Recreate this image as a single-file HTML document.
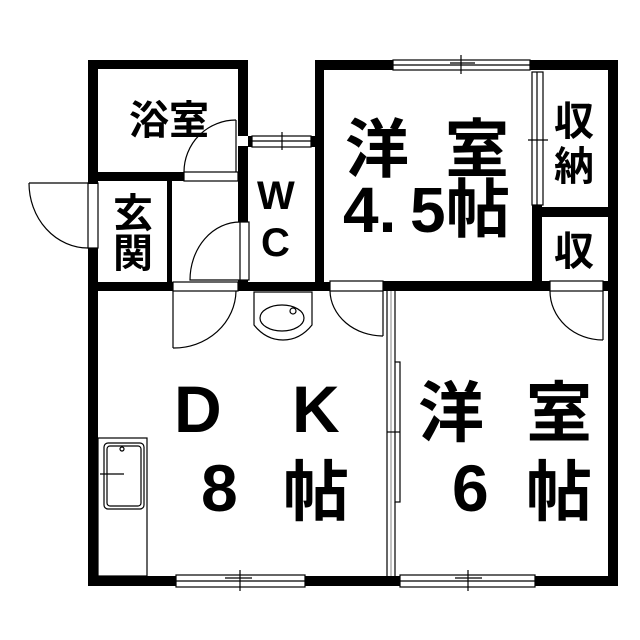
<!DOCTYPE html>
<html><head><meta charset="utf-8"><style>
html,body{margin:0;padding:0;background:#fff;width:640px;height:640px;overflow:hidden}
svg text{font-family:"Liberation Sans","Noto Sans CJK JP",sans-serif;fill:#000;font-weight:bold}
</style></head><body>
<svg width="640" height="640" viewBox="0 0 640 640" xmlns="http://www.w3.org/2000/svg">
<g fill="#000">
<rect x="88" y="60" width="160" height="9"/>
<rect x="88" y="60" width="10" height="124"/>
<rect x="88" y="248" width="10" height="337"/>
<rect x="238" y="60" width="10" height="76"/>
<rect x="238" y="146" width="10" height="76"/>
<rect x="238" y="280" width="10" height="11"/>
<rect x="88" y="172" width="96" height="9"/>
<rect x="167" y="180" width="5" height="104"/>
<rect x="88" y="282" width="85" height="9"/>
<rect x="238" y="282" width="92" height="9"/>
<rect x="383" y="281" width="167" height="10"/>
<rect x="603" y="281" width="15" height="10"/>
<rect x="315" y="60" width="9" height="231"/>
<rect x="315" y="60" width="78" height="10"/>
<rect x="530" y="60" width="88" height="10"/>
<rect x="608" y="60" width="10" height="525"/>
<rect x="532" y="205" width="10" height="86"/>
<rect x="532" y="207" width="86" height="10"/>
<rect x="88" y="576" width="88" height="10"/>
<rect x="305" y="576" width="95" height="10"/>
<rect x="535" y="576" width="83" height="10"/>
<rect x="248" y="136" width="4" height="11"/>
<rect x="311" y="136" width="4" height="11"/>
</g>
<g fill="none" stroke="#000" stroke-width="1.2">
<rect x="252" y="136" width="59" height="11"/><line x1="252" y1="141" x2="311" y2="141"/><line x1="282" y1="132" x2="282" y2="150"/>
<rect x="393" y="60" width="137" height="10"/><line x1="393" y1="65" x2="530" y2="65"/><line x1="461" y1="55" x2="461" y2="74"/><line x1="450" y1="63" x2="475" y2="63"/>
<rect x="176" y="575" width="129" height="12"/><line x1="176" y1="581" x2="305" y2="581"/><line x1="240" y1="570" x2="240" y2="591"/><line x1="225" y1="578" x2="252" y2="578"/>
<rect x="400" y="575" width="135" height="12"/><line x1="400" y1="581" x2="535" y2="581"/><line x1="468" y1="570" x2="468" y2="591"/><line x1="455" y1="578" x2="482" y2="578"/>
<rect x="532" y="72" width="11" height="133"/><line x1="537" y1="72" x2="537" y2="205"/><line x1="528" y1="140" x2="548" y2="140"/>
<rect x="184" y="172" width="54" height="9"/>
<line x1="236" y1="120" x2="236" y2="172"/>
<path d="M184 172 A52 52 0 0 1 236 120"/>
<rect x="88" y="183" width="10" height="65"/>
<line x1="29" y1="183" x2="88" y2="183"/>
<path d="M29 183 A59 65 0 0 0 88 248"/>
<rect x="240" y="222" width="9" height="58"/>
<path d="M240 222 A50 58 0 0 0 190 280 L240 280"/>
<rect x="173" y="282" width="65" height="9"/>
<line x1="173" y1="291" x2="173" y2="348"/>
<path d="M173 348 A62 58 0 0 0 236 291"/>
<rect x="330" y="281" width="53" height="10"/>
<line x1="383" y1="291" x2="383" y2="336"/>
<path d="M330 291 A53 46 0 0 0 383 336"/>
<rect x="550" y="281" width="53" height="10"/>
<line x1="603" y1="291" x2="603" y2="340"/>
<path d="M550 291 A53 49 0 0 0 603 340"/>
<line x1="387" y1="291" x2="387" y2="576"/>
<line x1="395" y1="291" x2="395" y2="362"/>
<line x1="395" y1="502" x2="395" y2="576"/>
<line x1="391" y1="291" x2="391" y2="576" stroke="#999"/>
<rect x="395" y="362" width="5" height="140"/><line x1="387" y1="432" x2="400" y2="432"/>
<path d="M254 292 L312 292 L312 325 Q300 340 283 340 Q266 340 254 325 Z"/>
<ellipse cx="282" cy="318" rx="22" ry="13"/>
<circle cx="293" cy="311" r="3"/>
<rect x="98" y="438" width="49" height="138"/>
<rect x="104" y="443" width="40" height="66" rx="4"/>
<rect x="107" y="446" width="34" height="60" rx="3"/>
<circle cx="122" cy="449" r="2"/>
<line x1="100" y1="474" x2="124" y2="474"/>
</g>
<g font-size="40">
<text x="129" y="134">浴室</text>
<text x="113" y="227">玄</text>
<text x="113" y="267">関</text>
</g>
<text x="257" y="209" font-size="40">W</text>
<text x="261" y="256" font-size="40">C</text>
<g font-size="64">
<text x="345" y="172">洋</text><text x="445" y="172">室</text>
<text x="343" y="232">4.</text><text x="410" y="232">5</text><text x="446" y="232">帖</text>
</g>
<g font-size="40"><text x="554" y="135">収</text><text x="554" y="180">納</text><text x="554" y="265">収</text></g>
<g font-size="66">
<text x="174" y="432">D</text><text x="292" y="432">K</text>
<text x="201" y="511">8</text><text x="283" y="515">帖</text>
<text x="418" y="436">洋</text><text x="526" y="436">室</text>
<text x="452" y="511">6</text><text x="526" y="515">帖</text>
</g>
</svg>
</body></html>
